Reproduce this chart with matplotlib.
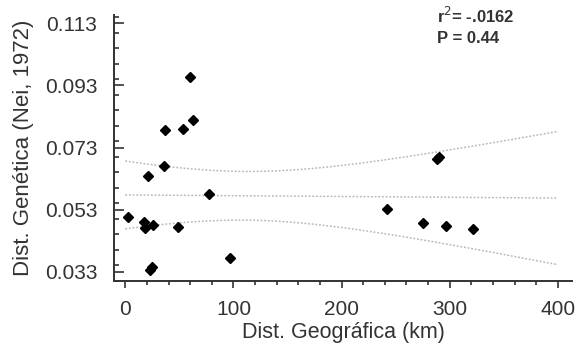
import numpy as np
import matplotlib.pyplot as plt
from matplotlib.ticker import MultipleLocator

plt.rcParams["font.family"] = ["Liberation Sans", "DejaVu Sans"]

# Distancia geografica (km) vs distancia genetica (Nei, 1972)
dist_geo = [2.1, 16.9, 17.8, 21.0, 25.6, 22.5, 24.6, 35.4, 37.0, 48.3, 53.6,
            60.0, 62.2, 77.3, 97.0, 241.7, 275.0, 296.6, 321.8, 288.5, 290.3]
dist_gen = [0.0507, 0.0489, 0.0471, 0.0639, 0.0479, 0.0335, 0.0344, 0.0669,
            0.0785, 0.0474, 0.0790, 0.0956, 0.0818, 0.0580, 0.0375, 0.0532,
            0.0486, 0.0477, 0.0467, 0.0692, 0.0698]
y_ticks = [0.033, 0.053, 0.073, 0.093, 0.113]
x_ticks = [0, 100, 200, 300, 400]
r2_text = "r$^2$= -.0162"
p_text = "P = 0.44"

x = np.array(dist_geo)
y = np.array(dist_gen)
n = len(x)

# regressao linear + intervalo de confianca 95% da media
b, a = np.polyfit(x, y, 1)
resid = y - (a + b * x)
s = np.sqrt(np.sum(resid ** 2) / (n - 2))
t = 2.093
xx = np.linspace(0, 400, 200)
yy = a + b * xx
se = s * np.sqrt(1 / n + (xx - x.mean()) ** 2 / np.sum((x - x.mean()) ** 2))

fig = plt.figure(figsize=(5.76, 3.49), dpi=100)
ax = fig.add_axes([0.198, 0.195, 0.795, 0.762])

band_style = dict(color="#b8b8b8", linestyle=(0, (1.2, 1.2)), linewidth=1.1)
ax.plot(xx, yy, **band_style)
ax.plot(xx, yy + t * se, **band_style)
ax.plot(xx, yy - t * se, **band_style)

ax.plot(x, y, linestyle="none", marker="D", markersize=5, color="black")

ax.set_xlim(-10.4, 413)
ax.set_ylim(0.0300, 0.1157)
ax.set_xticks(x_ticks)
ax.set_yticks(y_ticks)
ax.set_yticklabels([f"{v:.3f}" for v in y_ticks])
ax.xaxis.set_minor_locator(MultipleLocator(20))
ax.yaxis.set_minor_locator(MultipleLocator(0.005))

for side in ["top", "right"]:
    ax.spines[side].set_visible(False)
for side in ["left", "bottom"]:
    ax.spines[side].set_linewidth(1.4)
    ax.spines[side].set_color("#333333")

ax.tick_params(axis="y", which="major", direction="in", length=7, width=1.2,
               labelsize=15, pad=12, colors="#333333")
ax.tick_params(axis="y", which="minor", direction="in", length=3.5, width=1.2,
               colors="#333333")
ax.tick_params(axis="x", which="major", direction="out", length=5, width=1.2,
               labelsize=15, pad=9, colors="#333333")
ax.tick_params(axis="x", which="minor", direction="out", length=3, width=1.2,
               colors="#333333")

ax.set_xlabel("Dist. Geográfica (km)", fontsize=15.5, color="#333333", labelpad=2)
ax.set_ylabel("Dist. Genética (Nei, 1972)", fontsize=16, color="#333333")
ax.yaxis.set_label_coords(-0.175, 0.5)

fig.text(0.759, 0.953, r2_text, fontsize=12, fontweight="bold",
         color="#333333", va="center")
fig.text(0.759, 0.891, p_text, fontsize=12, fontweight="bold",
         color="#333333", va="center")

fig.savefig("out.png", dpi=100)
